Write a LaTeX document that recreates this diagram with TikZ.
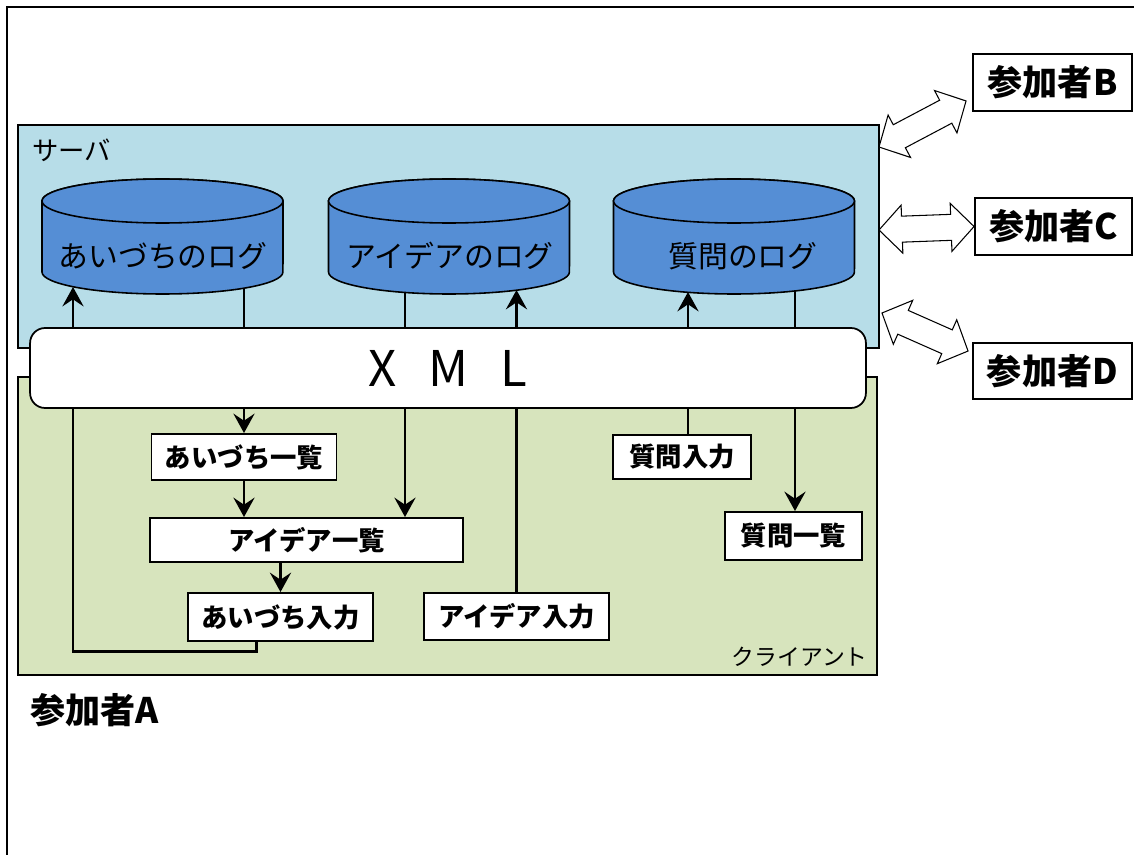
\documentclass[tikz,border=0pt]{standalone}
\usepackage{fontspec}
\setmainfont{Noto Sans CJK JP}
\usepackage{tikz}
\usetikzlibrary{arrows.meta,calc}

\definecolor{srvblue}{HTML}{B7DDE8}
\definecolor{cltgreen}{HTML}{D7E4BD}
\definecolor{dbblue}{HTML}{558ED5}

% log cylinder, #1 = centre x
\newcommand\logdb[1]{%
  \draw[dbstyle] (#1-120.5,201) -- (#1-120.5,272) arc[start angle=180,end angle=360,x radius=2.41cm,y radius=0.44cm] -- (#1+120.5,201) arc[start angle=0,end angle=180,x radius=2.41cm,y radius=0.44cm] -- cycle;
  \draw[dbstyle] (#1,201) ellipse[x radius=2.41cm,y radius=0.44cm];}

% hollow two-headed arrow between #1 and #2
\newcommand\twoway[2]{%
  \coordinate (#1h) at ($(#1)!0.46cm!(#2)$);
  \coordinate (#2h) at ($(#2)!0.46cm!(#1)$);
  \draw[line width=0.6pt,fill=white] (#1) -- ($(#1h)!0.48cm!90:(#2)$) -- ($(#1h)!0.26cm!90:(#2)$) -- ($(#2h)!0.26cm!-90:(#1)$) -- ($(#2h)!0.48cm!-90:(#1)$) -- (#2) -- ($(#2h)!0.48cm!90:(#1)$) -- ($(#2h)!0.26cm!90:(#1)$) -- ($(#1h)!0.26cm!-90:(#2)$) -- ($(#1h)!0.48cm!-90:(#2)$) -- cycle;}

\begin{document}
\begin{tikzpicture}[x=0.02cm,y=-0.02cm,
  >={Stealth[length=11pt,width=12pt,inset=4pt]},
  flow/.style={line width=1.7pt,->},
  panel/.style={draw,line width=1pt},
  dbstyle/.style={draw,line width=0.9pt,fill=dbblue},
  dblabel/.style={font=\fontsize{17}{17}\selectfont},
  listbox/.style={draw,fill=white,line width=1.1pt,inner sep=0pt,font=\bfseries\fontsize{15}{15}\selectfont},
  member/.style={draw,fill=white,line width=1.1pt,inner sep=0pt,font=\bfseries\fontsize{20}{20}\selectfont}]
\useasboundingbox (0,0) rectangle (1134,855);
\fill[white] (0,0) rectangle (1134,855);
\draw[line width=1.2pt] (7,855) -- (7,7) -- (1134,7);
% server and client
\draw[panel,fill=srvblue] (18,125) rectangle (879,348);
\draw[panel,fill=cltgreen] (18,377) rectangle (877,675);
\node[anchor=west,font=\fontsize{15}{15}\selectfont] (srvname) at (26,150) {サーバ};
\node[anchor=east,font=\fontsize{13}{13}\selectfont] (cltname) at (874,657) {クライアント};
% logs
\logdb{162.5}
\logdb{449}
\logdb{734}
\node[dblabel] (aizuLog) at (163,256) {あいづちのログ};
\node[dblabel] (ideaLog) at (450,256) {アイデアのログ};
\node[dblabel] (qLog) at (743,256) {質問のログ};
\coordinate (aizuLogU) at (73,287);
\coordinate (aizuLogD) at (244,288);
\coordinate (ideaLogD) at (405,292);
\coordinate (ideaLogU) at (516.5,290);
\coordinate (qLogU) at (688,292);
\coordinate (qLogD) at (795,291);
% client boxes
\node[listbox,minimum width=3.7cm,minimum height=0.92cm] (aizuList) at (244,457) {あいづち一覧};
\node[listbox,minimum width=6.26cm,minimum height=0.88cm] (ideaList) at (306.5,540) {アイデア一覧};
\node[listbox,minimum width=3.7cm,minimum height=0.96cm] (aizuIn) at (280.5,617) {あいづち入力};
\node[listbox,minimum width=3.7cm,minimum height=0.94cm] (ideaIn) at (516.5,616.5) {アイデア入力};
\node[listbox,minimum width=2.76cm,minimum height=0.88cm] (qIn) at (682,457) {質問入力};
\node[listbox,minimum width=2.74cm,minimum height=0.96cm] (qList) at (793.5,536) {質問一覧};
% flows
\draw[flow] (aizuLogD) -- (aizuLogD |- aizuList.north);
\draw[flow] (aizuList.south) -- (aizuList.south |- ideaList.north);
\draw[flow] (aizuIn.north |- ideaList.south) -- (aizuIn.north);
\draw[flow] ($(aizuIn.south west)!0.37!(aizuIn.south east)$) -- ++(0,10) -| (aizuLogU);
\draw[flow] (ideaLogD) -- (ideaLogD |- ideaList.north);
\draw[flow] (ideaIn.north) -- (ideaLogU);
\draw[flow] (qLogU |- qIn.north) -- (qLogU);
\draw[flow] (qLogD) -- (qLogD |- qList.north);
% xml
\node[draw,fill=white,line width=1pt,rounded corners=0.3cm,minimum width=16.72cm,minimum height=1.6cm,font=\fontsize{28}{28}\selectfont] (xml) at (448,368) {X\hspace{18pt}M\hspace{18pt}L};
% participants
\node[font=\bfseries\fontsize{20}{20}\selectfont,anchor=west] (memA) at (24,710) {参加者A};
\node[member,minimum width=3.18cm,minimum height=1.14cm] (memB) at (1052.5,82.5) {参加者B};
\node[member,minimum width=3.14cm,minimum height=1.14cm] (memC) at (1053.5,226.5) {参加者C};
\node[member,minimum width=3.18cm,minimum height=1.12cm] (memD) at (1052.5,371) {参加者D};
\coordinate (srvB) at (879,147);
\coordinate (tipB) at ($(memB.south west)+(-6,-11)$);
\coordinate (srvC) at (879,230);
\coordinate (tipC) at (memC.west);
\coordinate (srvD) at (882,313);
\coordinate (tipD) at ($(memD.north west)+(-4,9)$);
\twoway{srvB}{tipB}
\twoway{srvC}{tipC}
\twoway{srvD}{tipD}
\end{tikzpicture}
\end{document}
